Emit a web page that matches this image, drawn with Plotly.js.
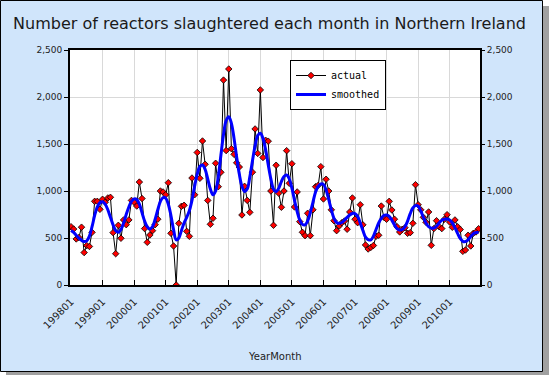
<!DOCTYPE html>
<html>
<head>
<meta charset="utf-8">
<script src="https://cdn.plot.ly/plotly-3.0.1.min.js"></script>
<style>html,body{margin:0;padding:0;background:#fff;}#chart{width:550px;height:375px;}</style>
</head>
<body>
<div id="chart"></div>
<script>
const months = [
 '199801','199802','199803','199804','199805','199806','199807','199808','199809','199810','199811','199812',
 '199901','199902','199903','199904','199905','199906','199907','199908','199909','199910','199911','199912',
 '200001','200002','200003','200004','200005','200006','200007','200008','200009','200010','200011','200012',
 '200101','200102','200103','200104','200105','200106','200107','200108','200109','200110','200111','200112',
 '200201','200202','200203','200204','200205','200206','200207','200208','200209','200210','200211','200212',
 '200301','200302','200303','200304','200305','200306','200307','200308','200309','200310','200311','200312',
 '200401','200402','200403','200404','200405','200406','200407','200408','200409','200410','200411','200412',
 '200501','200502','200503','200504','200505','200506','200507','200508','200509','200510','200511','200512',
 '200601','200602','200603','200604','200605','200606','200607','200608','200609','200610','200611','200612',
 '200701','200702','200703','200704','200705','200706','200707','200708','200709','200710','200711','200712',
 '200801','200802','200803','200804','200805','200806','200807','200808','200809','200810','200811','200812',
 '200901','200902','200903','200904','200905','200906','200907','200908','200909','200910','200911','200912',
 '201001','201002','201003','201004','201005','201006','201007','201008','201009','201010','201011','201012'
];
const actual = [
 620, 595, 490, 505, 615, 345, 420, 410, 560, 890, 890, 805,
 912, 880, 926, 933, 557, 333, 635, 497, 692, 642, 692, 900,
 880, 840, 1095, 920, 600, 454, 532, 578, 642, 700, 1000, 990,
 960, 1088, 550, 415, 0, 656, 837, 848, 571, 518, 1138, 960,
 1410, 1135, 1532, 1284, 900, 646, 710, 1295, 1046, 1199, 2180, 1430,
 2298, 1450, 1390, 1300, 1255, 745, 1050, 900, 773, 1200, 1660, 1400,
 2075, 1356, 1540, 1530, 1000, 635, 1274, 976, 827, 1000, 1429, 1082,
 1290, 830, 990, 674, 561, 525, 763, 525, 800, 1046, 1060, 1259,
 915, 1125, 1000, 800, 684, 578, 628, 663, 681, 593, 777, 926,
 700, 663, 854, 640, 426, 383, 400, 420, 518, 529, 840, 720,
 699, 890, 798, 700, 620, 564, 593, 610, 550, 557, 656, 1067,
 854, 800, 720, 667, 777, 422, 600, 684, 620, 600, 700, 748,
 670, 614, 692, 620, 590, 358, 372, 529, 415, 550, 564, 599
];
const smoothed = [
 580, 560, 530, 500, 475, 462, 470, 520, 620, 740, 830, 875,
 886, 860, 800, 720, 640, 580, 560, 590, 660, 750, 830, 890,
 915, 910, 860, 770, 680, 620, 596, 620, 700, 800, 890, 930,
 925, 860, 740, 590, 480, 500, 580, 660, 720, 790, 900, 1050,
 1180, 1260, 1277, 1230, 1130, 1020, 960, 1000, 1150, 1380, 1600, 1750,
 1790, 1720, 1560, 1360, 1180, 1050, 995, 1020, 1150, 1320, 1480, 1590,
 1614, 1560, 1440, 1280, 1130, 1020, 993, 1030, 1100, 1155, 1170, 1130,
 1030, 900, 780, 690, 645, 640, 680, 770, 880, 990, 1050, 1075,
 1070, 1010, 910, 800, 710, 665, 656, 665, 690, 720, 745, 760,
 760, 730, 660, 580, 510, 482, 480, 520, 590, 660, 710, 740,
 745, 730, 690, 640, 600, 585, 590, 620, 680, 760, 820, 845,
 840, 790, 720, 660, 620, 605, 605, 625, 660, 690, 700, 702,
 690, 660, 610, 550, 495, 465, 462, 480, 515, 545, 558, 557
];
const tickLabels = ['199801','199901','200001','200101','200201','200301','200401','200501','200601','200701','200801','200901','201001'];
const yTicks = [0, 500, 1000, 1500, 2000, 2500];

// pixel -> paper helpers (plot area 70..480 x 50..285)
const px = v => (v - 70) / 410;
const py = v => (285 - v) / 235;

const traces = [
  {
    x: months, y: actual, name: 'actual', type: 'scatter', mode: 'lines+markers',
    line: {color: '#000000', width: 1},
    marker: {symbol: 'diamond', size: 5, color: '#ff0000', line: {color: '#000000', width: 0.8}},
    xaxis: 'x', yaxis: 'y'
  },
  {
    x: months, y: smoothed, name: 'smoothed', type: 'scatter', mode: 'lines',
    line: {color: '#0000ff', width: 3, shape: 'spline'},
    xaxis: 'x', yaxis: 'y2'
  }
];

const axFont = {family: 'DejaVu Sans', size: 9, color: '#222222'};
const layout = {
  width: 550, height: 375,
  margin: {l: 70, r: 70, t: 50, b: 90},
  paper_bgcolor: '#d0e5fb',
  plot_bgcolor: '#ffffff',
  showlegend: true,
  title: {text: 'Number of reactors slaughtered each month in Northern Ireland',
          font: {family: 'DejaVu Sans', size: 16, color: '#1a1a1a'},
          xref: 'container', x: 0.49, xanchor: 'center', yref: 'container', y: 0.938, yanchor: 'middle'},
  xaxis: {
    type: 'category', range: [-0.38, 155.53],
    tickmode: 'array', tickvals: tickLabels, ticktext: tickLabels, tickangle: -45,
    ticks: 'inside', ticklen: 5, tickcolor: '#000', tickwidth: 1, ticklabelstandoff: 5,
    showgrid: true, gridcolor: '#d9d9d9', gridwidth: 1,
    showline: true, linecolor: '#000', linewidth: 2, mirror: true,
    tickfont: {family: 'DejaVu Sans', size: 10, color: '#222222'}, zeroline: false, fixedrange: true
  },
  yaxis: {
    range: [0, 2500], tickmode: 'array', tickvals: yTicks, tickformat: ',d',
    ticks: 'outside', ticklen: 4, tickcolor: '#000', tickwidth: 1,
    showgrid: true, gridcolor: '#d9d9d9', gridwidth: 1,
    showline: true, linecolor: '#000', linewidth: 2, mirror: true,
    zeroline: false, tickfont: axFont, fixedrange: true
  },
  yaxis2: {
    overlaying: 'y', side: 'right', range: [0, 2500], tickmode: 'array', tickvals: yTicks, tickformat: ',d',
    ticks: 'outside', ticklen: 4, tickcolor: '#000', tickwidth: 1,
    showgrid: false, showline: false, zeroline: false, tickfont: axFont, fixedrange: true
  },
  legend: {
    x: px(290), y: py(60), xanchor: 'left', yanchor: 'top',
    bgcolor: '#ffffff', bordercolor: '#000000', borderwidth: 1,
    font: {family: 'DejaVu Sans Mono', size: 10, color: '#000'},
    tracegroupgap: 0, itemwidth: 30
  },
  annotations: [
    {text: 'YearMonth', xref: 'paper', yref: 'paper', x: 0.5, y: py(356), xanchor: 'center', yanchor: 'middle',
     showarrow: false, font: {family: 'DejaVu Sans', size: 10, color: '#222222'}}
  ],
  shapes: [
    // white outside the frame
    {type: 'rect', xref: 'paper', yref: 'paper', x0: px(542.5), x1: px(551), y0: py(-1), y1: py(376), fillcolor: '#ffffff', line: {width: 0}, layer: 'above'},
    {type: 'rect', xref: 'paper', yref: 'paper', x0: px(-1), x1: px(551), y0: py(371.5), y1: py(376), fillcolor: '#ffffff', line: {width: 0}, layer: 'above'},
    // frame shadow
    {type: 'rect', xref: 'paper', yref: 'paper', x0: px(542.5), x1: px(549), y0: py(6), y1: py(377), fillcolor: '#a0a0a0', line: {width: 0}, layer: 'above'},
    {type: 'rect', xref: 'paper', yref: 'paper', x0: px(6), x1: px(549), y0: py(371.5), y1: py(377), fillcolor: '#a0a0a0', line: {width: 0}, layer: 'above'},
    // frame border
    {type: 'rect', xref: 'paper', yref: 'paper', x0: px(0.5), x1: px(542.5), y0: py(0.5), y1: py(371.5), fillcolor: 'rgba(0,0,0,0)', line: {color: '#000', width: 1}, layer: 'above'},
    // legend shadow
    {type: 'rect', xref: 'paper', yref: 'paper', x0: px(294), x1: px(384), y0: py(64), y1: py(109), fillcolor: '#9a9a9a', line: {width: 0}, layer: 'above'}
  ]
};

Plotly.newPlot('chart', traces, layout, {staticPlot: true, displayModeBar: false});
</script>
</body>
</html>
